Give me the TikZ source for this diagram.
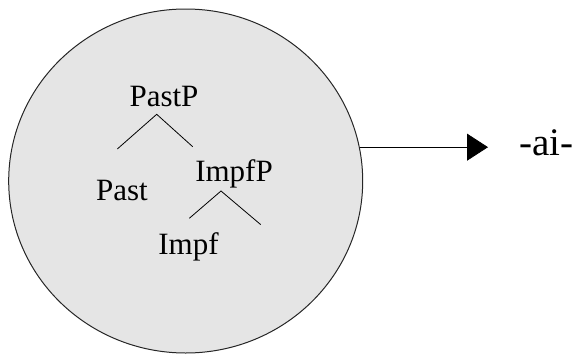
\documentclass[tikz,border=0pt]{standalone}
\usepackage{fontspec}
\setmainfont{Liberation Serif}
\usetikzlibrary{shapes.geometric,arrows.meta}

\tikzset{
  lbl/.style={anchor=base, inner sep=0pt, font=\fontsize{31}{36}\selectfont},
  branch/.style={draw=black, line width=0.8pt},
  blobstyle/.style={ellipse, draw=black!85, line width=1pt, fill=black!10,
    minimum width=354pt, minimum height=344pt, inner sep=0pt},
  outarrow/.style={draw=black, line width=0.8pt, -{Triangle[length=21pt,width=27pt]}}
}

\begin{document}
\begin{tikzpicture}[x=1pt,y=-1pt]
  \useasboundingbox (0,0) rectangle (576,354);

  % shaded domain
  \node[blobstyle] (blob) at (185.7,181) {};

  % tree labels
  \node[lbl] (pastp) at (164,106) {PastP};
  \node[lbl] (past)  at (122,200) {Past};
  \node[lbl] (impfp) at (234,181.7) {ImpfP};
  \node[lbl] (impf)  at (188.5,254) {Impf};

  % branch points
  \coordinate (apexA) at (156.7,114.3);
  \coordinate (legAl) at (117.3,149);
  \coordinate (legAr) at (192.7,146.7);
  \coordinate (apexB) at (221,191);
  \coordinate (legBl) at (189.3,218.3);
  \coordinate (legBr) at (260.7,224.6);

  \draw[branch] (legAl) -- (apexA) -- (legAr);
  \draw[branch] (legBl) -- (apexB) -- (legBr);

  % output morpheme
  \node[anchor=base west, inner sep=0pt, font=\fontsize{39}{44}\selectfont] (ai) at (519,155) {-ai-};
  \coordinate (tip) at (488,147);
  \draw[outarrow] (blob.11) -- (blob.11 -| tip);
\end{tikzpicture}
\end{document}
